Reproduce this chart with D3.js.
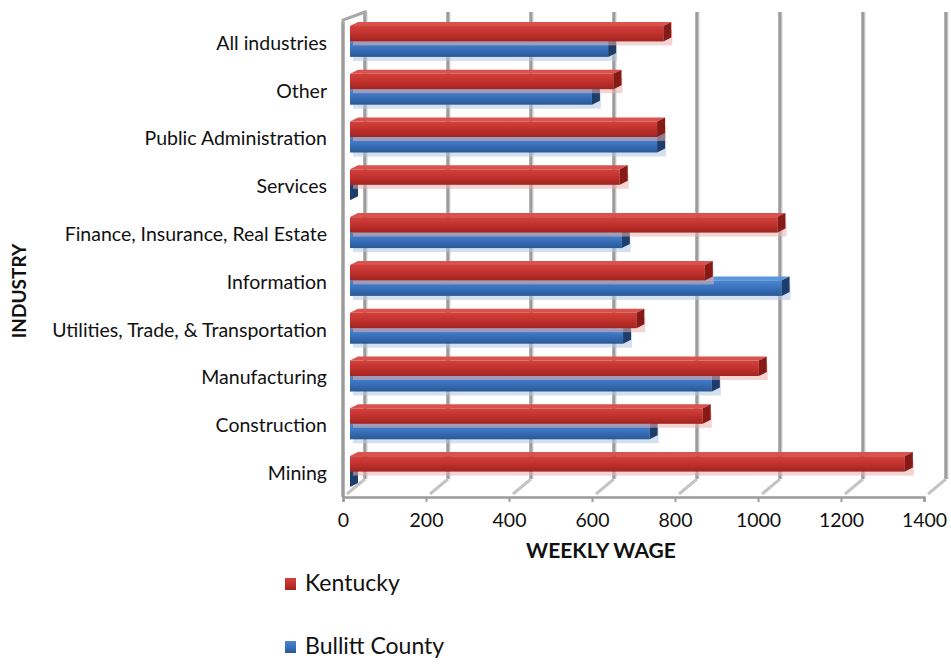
<!DOCTYPE html>
<html>
<head>
<meta charset="utf-8">
<script src="https://cdn.jsdelivr.net/npm/d3@7"></script>
<style>
  body { margin: 0; background: white; }
  text { font-family: Lato, "Liberation Sans", sans-serif; fill: #111; }
</style>
</head>
<body>
<div id="chart"></div>
<script>
// 업종별 주간 임금 (위에서 아래 순서)
const categories = ["All industries", "Other", "Public Administration", "Services",
  "Finance, Insurance, Real Estate", "Information", "Utilities, Trade, & Transportation",
  "Manufacturing", "Construction", "Mining"];
const seriesNames = ["Kentucky", "Bullitt County"];
const kentucky = [755, 635, 740, 650, 1030, 855, 690, 985, 850, 1337];
const bullitt = [622, 583, 740, 0, 655, 1040, 658, 872, 722, 0];
const xTicks = [0, 200, 400, 600, 800, 1000, 1200, 1400];

const W = 951, H = 664;
const svg = d3.select("#chart").append("svg").attr("width", W).attr("height", H);

// 3D 느낌을 위한 깊이 오프셋
const DX = 22, DY = -18;     // 바닥 앞 -> 뒷벽
const BDX = 8, BDY = -4;     // 막대 두께
const floorY = 497;

const x = d3.scaleLinear().domain([0, 1400]).range([343, 924]);
const y = d3.scaleBand().domain(categories).range([21, 499]);
const sub = d3.scaleBand().domain(seriesNames).range([-19, 12]);

const colors = {
  "Kentucky": { top: "#d9524d", c1: "#d2423d", c2: "#c3322e", c3: "#a1241f", cap: "#861a16", shadow: "#eab0ae" },
  "Bullitt County": { top: "#5d95da", c1: "#4a86d0", c2: "#3a73bf", c3: "#2a5895", cap: "#1d3d6a", shadow: "#b3c6e0" }
};

// 그라데이션 정의
const defs = svg.append("defs");
seriesNames.forEach((s, i) => {
  const g = defs.append("linearGradient").attr("id", "grad" + i)
    .attr("x1", 0).attr("y1", 0).attr("x2", 0).attr("y2", 1);
  g.append("stop").attr("offset", "0%").attr("stop-color", colors[s].c1);
  g.append("stop").attr("offset", "45%").attr("stop-color", colors[s].c2);
  g.append("stop").attr("offset", "100%").attr("stop-color", colors[s].c3);
});

// 뒷벽 그리드라인 + 바닥 발
const grid = svg.append("g");
xTicks.forEach(t => {
  const xf = x(t), xb = x(t) + DX;
  grid.append("line").attr("x1", xb).attr("x2", xb).attr("y1", 12).attr("y2", floorY + DY)
    .attr("stroke", "#9c9c9c").attr("stroke-width", 3.5);
  grid.append("line").attr("x1", xb + 2).attr("x2", xb + 2).attr("y1", 12).attr("y2", floorY + DY)
    .attr("stroke", "#d4d4d4").attr("stroke-width", 1);
  grid.append("line").attr("x1", xf + 4).attr("x2", xb).attr("y1", floorY - 3).attr("y2", floorY + DY)
    .attr("stroke", "#c4c4c4").attr("stroke-width", 3);
});

// 왼쪽 벽
grid.append("line").attr("x1", x(0)).attr("x2", x(0)).attr("y1", 22).attr("y2", floorY)
  .attr("stroke", "#9c9c9c").attr("stroke-width", 3.5);
grid.append("path")
  .attr("d", `M${x(0)},24 L${x(0)},20 L${x(0) + DX},12 L${x(0) + DX},16`)
  .attr("fill", "none").attr("stroke", "#a8a8a8").attr("stroke-width", 3);

// X축 (앞쪽 바닥선)
const xAxis = svg.append("g").attr("transform", `translate(0,${floorY})`)
  .call(d3.axisBottom(x).tickValues(xTicks).tickFormat(d3.format("d")).tickSize(5).tickPadding(11));
xAxis.select(".domain").attr("stroke", "#9a9a9a").attr("stroke-width", 2.5);
xAxis.selectAll(".tick line").attr("stroke", "#9a9a9a").attr("stroke-width", 2);
xAxis.selectAll(".tick text").style("font-family", "Lato, sans-serif").style("font-size", "19.5px").attr("fill", "#111");

// 막대 그리기 (파란색 먼저, 빨간색 위에)
const x0 = x(0) + 7;
const barsG = svg.append("g");
const order = [1, 0];
order.forEach(si => {
  const s = seriesNames[si];
  const vals = si === 0 ? kentucky : bullitt;
  const c = colors[s];
  categories.forEach((cat, i) => {
    const v = vals[i];
    const xe = x0 + (x(v) - x(0));
    const yt = y(cat) + y.bandwidth() / 2 + sub(s);
    const h = sub.bandwidth();
    const g = barsG.append("g");
    // 그림자
    if (v > 0) {
      g.append("rect").attr("x", x0 + 3).attr("y", yt + 4).attr("width", xe - x0 + BDX - 2).attr("height", h)
        .attr("fill", c.shadow).attr("opacity", 0.55);
    }
    // 윗면
    g.append("path")
      .attr("d", `M${x0},${yt} L${xe},${yt} L${xe + BDX},${yt + BDY} L${x0 + BDX},${yt + BDY}Z`)
      .attr("fill", c.top);
    // 앞면
    g.append("rect").attr("x", x0).attr("y", yt).attr("width", xe - x0).attr("height", h)
      .attr("fill", `url(#grad${si})`);
    // 끝면
    g.append("path")
      .attr("d", `M${xe},${yt} L${xe + BDX},${yt + BDY} L${xe + BDX},${yt + BDY + h} L${xe},${yt + h}Z`)
      .attr("fill", c.cap);
  });
});

// 카테고리 라벨
svg.append("g").selectAll("text").data(categories).join("text")
  .attr("x", 327).attr("y", d => y(d) + y.bandwidth() / 2)
  .attr("text-anchor", "end").attr("dominant-baseline", "middle")
  .style("font-size", "19.5px").text(d => d);

// 축 제목
svg.append("text").attr("transform", "translate(21,291) rotate(-90)")
  .attr("text-anchor", "middle").attr("dominant-baseline", "middle")
  .style("font-size", "19px").style("font-weight", "bold").text("INDUSTRY");
svg.append("text").attr("x", 601).attr("y", 553)
  .attr("text-anchor", "middle").attr("dominant-baseline", "middle")
  .style("font-size", "21px").style("font-weight", "bold").text("WEEKLY WAGE");

// 범례
const legendY = [585, 648];
seriesNames.forEach((s, i) => {
  const g = svg.append("g").attr("transform", `translate(285,${legendY[i]})`);
  g.append("rect").attr("x", 0).attr("y", -7).attr("width", 11).attr("height", 12)
    .attr("fill", `url(#grad${i})`);
  g.append("text").attr("x", 20).attr("y", 0).attr("dominant-baseline", "middle")
    .style("font-size", "23px").text(s);
});
</script>
</body>
</html>
